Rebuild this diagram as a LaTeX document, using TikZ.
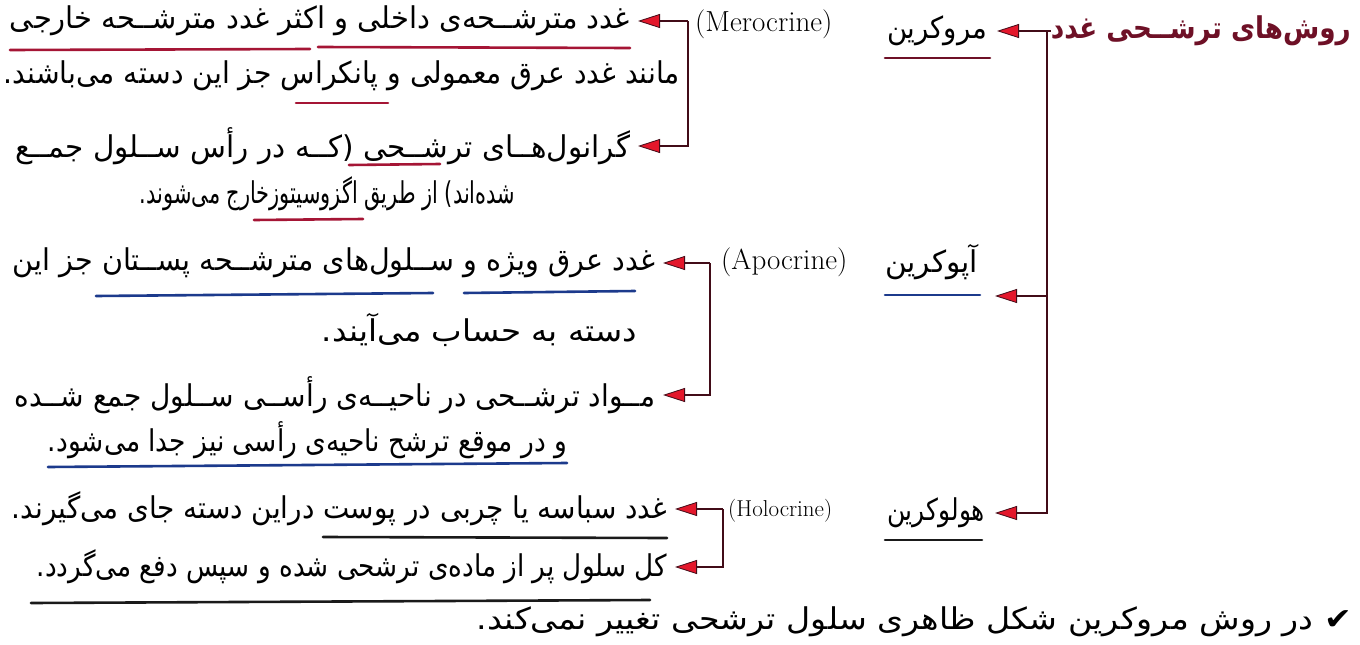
\documentclass[tikz,border=0pt]{standalone}
\usepackage{fontspec}
\usepackage{graphicx}
\usetikzlibrary{arrows.meta}
\TeXXeTstate=1
\newfontfamily\farsi[Script=Arabic]{DejaVu Sans}
\definecolor{connc}{HTML}{420C18}
\definecolor{arrowc}{HTML}{E3172B}
\definecolor{titlec}{HTML}{6E1026}
\definecolor{redul}{HTML}{A51535}
\definecolor{blueul}{HTML}{1C3A8C}
\definecolor{blackul}{HTML}{1A1A1A}
\begin{document}
\begin{tikzpicture}[x=1pt,y=-1pt,
  fatext/.style={inner sep=0pt, outer xsep=8pt, font=\fontsize{30}{34}\selectfont\farsi, text=black},
  lbl/.style={inner sep=0pt, outer xsep=10pt, font=\fontsize{30}{34}\selectfont\farsi, text=black},
  latin/.style={inner sep=0pt, font=\fontsize{29}{34}\selectfont, text=black},
  conn/.style={draw=connc, line width=2.8pt, -{Triangle[length=22pt,width=14pt,fill=arrowc,line width=0.8pt]}},
  ul/.style={line width=2.6pt, line cap=round},
]
\useasboundingbox[fill=white] (0,0) rectangle (1360,645);

% title and first-level labels
\node[inner sep=0pt, anchor=east, text=titlec, font=\fontsize{30}{34}\selectfont\farsi\bfseries] (title) at (1351,31) {\resizebox{300pt}{\height}{\beginR روش‌های ترشــحی غدد\endR}};
\node[lbl, anchor=east] (mero) at (997,31) {\resizebox{100pt}{\height}{\beginR مروکرین\endR}};
\node[latin, anchor=west] (meroL) at (695,24) {(Merocrine)};
\node[lbl, anchor=east] (apo) at (988,262) {\resizebox{93pt}{\height}{\beginR آپوکرین\endR}};
\node[latin, anchor=west] (apoL) at (721,262) {(Apocrine)};
\node[lbl, anchor=east] (holo) at (995,513) {\resizebox{98pt}{\height}{\beginR هولوکرین\endR}};
\node[latin, anchor=west, font=\fontsize{23}{27}\selectfont] (holoL) at (728,511) {(Holocrine)};

% merocrine items
\node[fatext, anchor=east] (m1) at (638,21) {\resizebox{620pt}{\height}{\beginR غدد مترشــحه‌ی داخلی و اکثر غدد مترشــحه خارجی\endR}};
\node[fatext, anchor=east] (m2) at (688,76) {\resizebox{676pt}{\height}{\beginR مانند غدد عرق معمولی و پانکراس جز این دسته می‌باشند.\endR}};
\node[fatext, anchor=east] (m3) at (638,146) {\resizebox{614pt}{\height}{\beginR گرانول‌هــای ترشــحی (کــه در رأس ســلول جمــع\endR}};
\node[fatext, anchor=east] (m4) at (523,194) {\resizebox{375pt}{\height}{\beginR شده‌اند) از طریق اگزوسیتوزخارج می‌شوند.\endR}};

% apocrine items
\node[fatext, anchor=east] (a1) at (663,263) {\resizebox{642pt}{\height}{\beginR غدد عرق ویژه و ســلول‌های مترشــحه پســتان جز این\endR}};
\node[fatext, anchor=east] (a2) at (645,330) {\resizebox{315pt}{\height}{\beginR دسته به حساب می‌آیند.\endR}};
\node[fatext, anchor=east] (a3) at (663,395) {\resizebox{640pt}{\height}{\beginR مــواد ترشــحی در ناحیــه‌ی رأســی ســلول جمع شــده\endR}};
\node[fatext, anchor=east] (a4) at (575,440) {\resizebox{519pt}{\height}{\beginR و در موقع ترشح ناحیه‌ی رأسی نیز جدا می‌شود.\endR}};

% holocrine items
\node[fatext, anchor=east] (h1) at (675,509) {\resizebox{655pt}{\height}{\beginR غدد سباسه یا چربی در پوست دراین دسته جای می‌گیرند.\endR}};
\node[fatext, anchor=east] (h2) at (675,567) {\resizebox{630pt}{\height}{\beginR کل سلول پر از ماده‌ی ترشحی شده و سپس دفع می‌گردد.\endR}};

% footer
\node[fatext, anchor=east] (foot) at (1360,622) {\resizebox{875pt}{\height}{\beginR ✔ در روش مروکرین شکل ظاهری سلول ترشحی تغییر نمی‌کند.\endR}};

% main trunk
\coordinate (tk) at (1047,31);
\coordinate (apoarr) at (995,296);
\draw[conn] (title.west) -- (mero.east);
\draw[conn] (tk) |- (holo.east);
\draw[conn] (tk |- apoarr) -- (apoarr);

% brackets
\coordinate (mb) at (688,21);
\draw[conn] (mb) -- (m1.east);
\draw[conn] (mb) |- (m3.east);
\coordinate (ab) at (710,263);
\draw[conn] (ab) -- (a1.east);
\draw[conn] (ab) |- (a3.east);
\coordinate (hb) at (723,509);
\draw[conn] (hb) -- (h1.east);
\draw[conn] (hb) |- (h2.east);

% underlines
\draw[ul, draw=titlec] (885,58) -- (990,58);
\draw[ul, draw=redul] (10,50) -- (310,49);
\draw[ul, draw=redul] (318,47) -- (630,48);
\draw[ul, draw=redul] (296,103) -- (388,103);
\draw[ul, draw=redul] (349,165) -- (440,164);
\draw[ul, draw=redul] (254,220) -- (363,219);
\draw[ul, draw=blueul] (885,295) -- (980,295);
\draw[ul, draw=blueul] (96,296) -- (433,293);
\draw[ul, draw=blueul] (464,293) -- (635,291);
\draw[ul, draw=blueul] (48,467) -- (567,463);
\draw[ul, draw=blackul] (885,540) -- (982,540);
\draw[ul, draw=blackul] (323,537) -- (667,538);
\draw[ul, draw=blackul] (31,603) -- (650,600);
\end{tikzpicture}
\end{document}
